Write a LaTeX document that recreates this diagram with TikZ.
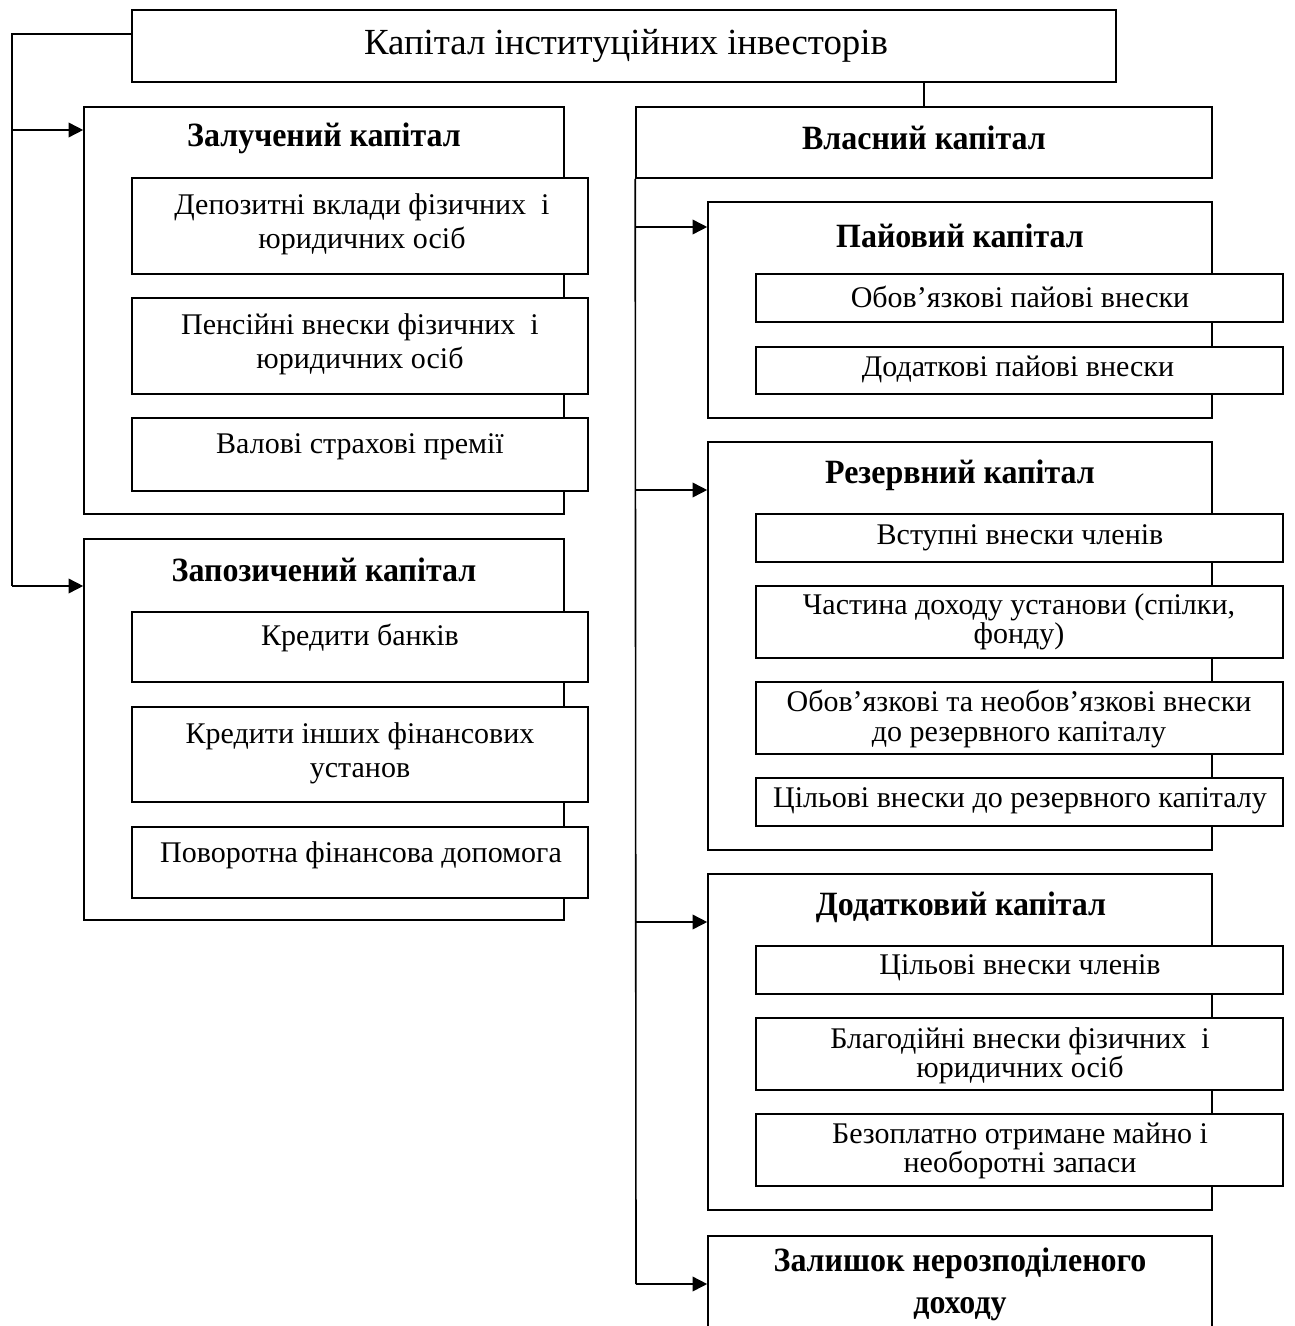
\documentclass[tikz,border=0pt]{standalone}
\usepackage{fontspec}
\setmainfont{Liberation Serif}
\newfontfamily\ttlfont[FakeStretch=0.94]{Liberation Serif}
\usetikzlibrary{arrows.meta,fit}
\begin{document}
\begin{tikzpicture}[x=0.75pt,y=-0.75pt,
  box/.style={draw, line width=1.2pt, fill=white, inner sep=0pt},
  txt/.style={font=\fontsize{22.5}{25.5}\selectfont, align=center, inner sep=0pt},
  txtr/.style={font=\fontsize{22.5}{21.8}\selectfont, align=center, inner sep=0pt},
  ttl/.style={font=\ttlfont\fontsize{25.5}{27}\selectfont\bfseries, align=center, inner sep=0pt},
  big/.style={font=\fontsize{27.6}{30}\selectfont, align=center, inner sep=0pt},
  conn/.style={line width=1.2pt},
  arr/.style={line width=1.2pt, -{Triangle[length=11pt,width=11pt]}}]
\useasboundingbox (0,0) rectangle (1294,1326);
\clip (0,0) rectangle (1294,1326);

% top
\node[box, fit={(132,10) (1116,82)}] (top) {};
\node[big] (topT) at (626,46) {Капітал інституційних інвесторів};

% left containers
\node[box, fit={(84,107) (564,514)}] (zal) {};
\node[ttl] (zalT) at (324,138) {Залучений капітал};
\node[box, fit={(132,178) (588,274)}] (dep) {};
\node[txt] (depT) at (362,224) {Депозитні вклади фізичних~~і\\юридичних осіб};
\node[box, fit={(132,298) (588,394)}] (pen) {};
\node[txt] (penT) at (360,344) {Пенсійні внески фізичних~~і\\юридичних осіб};
\node[box, fit={(132,418) (588,491)}] (val) {};
\node[txt] (valT) at (360,447) {Валові страхові премії};

\node[box, fit={(84,539) (564,920)}] (zap) {};
\node[ttl] (zapT) at (324,570) {Запозичений капітал};
\node[box, fit={(132,612) (588,682)}] (krb) {};
\node[txt] (krbT) at (360,638) {Кредити банків};
\node[box, fit={(132,707) (588,802)}] (kri) {};
\node[txt] (kriT) at (360,753) {Кредити інших фінансових\\установ};
\node[box, fit={(132,827) (588,898)}] (pov) {};
\node[txt] (povT) at (361,855) {Поворотна фінансова допомога};

% right
\node[box, fit={(636,107) (1212,178)}] (vlas) {};
\node[ttl] (vlasT) at (924,138) {Власний капітал};

\node[box, fit={(708,202) (1212,418)}] (pai) {};
\node[ttl] (paiT) at (960,236) {Пайовий капітал};
\node[box, fit={(756,274) (1283,322)}] (obp) {};
\node[txtr] (obpT) at (1020,297) {Обов’язкові пайові внески};
\node[box, fit={(756,347) (1283,394)}] (ddp) {};
\node[txtr] (ddpT) at (1018,369) {Додаткові пайові внески};

\node[box, fit={(708,442) (1212,850)}] (rez) {};
\node[ttl] (rezT) at (960,475) {Резервний капітал};
\node[box, fit={(756,514) (1283,562)}] (vst) {};
\node[txtr] (vstT) at (1020,538) {Вступні внески членів};
\node[box, fit={(756,586) (1283,658)}] (chas) {};
\node[txtr] (chasT) at (1019,622) {Частина доходу установи (спілки,\\фонду)};
\node[box, fit={(756,682) (1283,754)}] (obn) {};
\node[txtr] (obnT) at (1019,719) {Обов’язкові та необов’язкові внески\\до резервного капіталу};
\node[box, fit={(756,778) (1283,826)}] (cil) {};
\node[txtr] (cilT) at (1020,801) {Цільові внески до резервного капіталу};

\node[box, fit={(708,874) (1212,1210)}] (dodk) {};
\node[ttl] (dodkT) at (961,907) {Додатковий капітал};
\node[box, fit={(756,946) (1283,994)}] (cch) {};
\node[txtr] (cchT) at (1020,968) {Цільові внески членів};
\node[box, fit={(756,1018) (1283,1090)}] (blg) {};
\node[txtr] (blgT) at (1020,1056) {Благодійні внески фізичних~~і\\юридичних осіб};
\node[box, fit={(756,1114) (1283,1186)}] (bez) {};
\node[txtr] (bezT) at (1020,1151) {Безоплатно отримане майно і\\необоротні запаси};

\node[box, fit={(708,1236) (1212,1340)}] (zln) {};
\node[ttl, font=\ttlfont\fontsize{25.5}{31.5}\selectfont\bfseries] (zlnT) at (960,1284) {Залишок нерозподіленого\\доходу};

% connectors left
\coordinate (L0) at (12,34);
\coordinate (L1) at (12,130);
\coordinate (L2) at (12,586);
\draw[conn] (top.west |- L0) -- (L0) -- (L2);
\draw[arr] (L1) -- (zal.west |- L1);
\draw[arr] (L2) -- (zap.west |- L2);

% connector top -> vlas
\coordinate (TV) at (924,0);
\draw[conn] (top.south -| TV) -- (vlas.north -| TV);

% connectors right
\coordinate (R1) at (636,227);
\coordinate (R2) at (636,490);
\coordinate (R3) at (636,922);
\coordinate (R4) at (636,1284);
\draw[conn] (vlas.south west) -- (R4);
\draw[arr] (R1) -- (pai.west |- R1);
\draw[arr] (R2) -- (rez.west |- R2);
\draw[arr] (R3) -- (dodk.west |- R3);
\draw[arr] (R4) -- (zln.west |- R4);
\end{tikzpicture}
\end{document}
